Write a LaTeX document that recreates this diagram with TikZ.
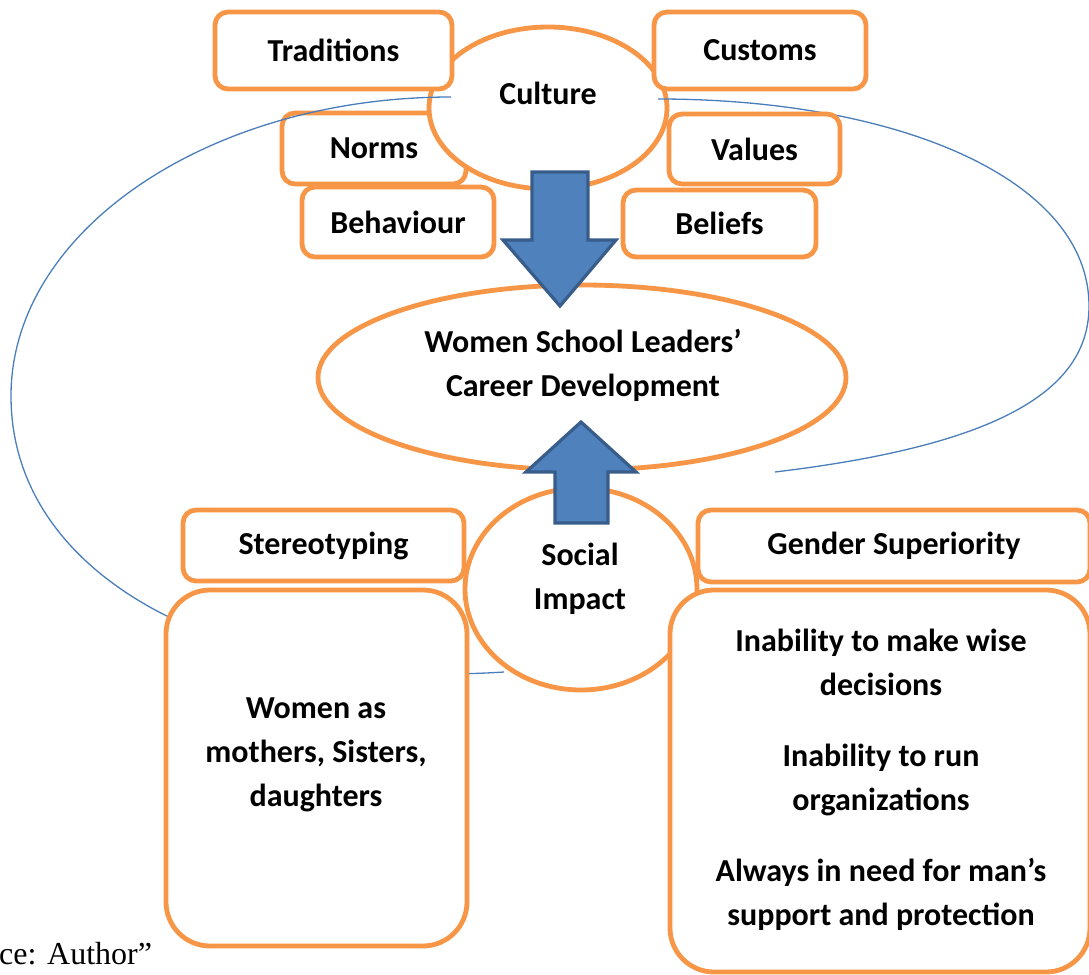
\documentclass[tikz,border=0pt]{standalone}
\usepackage{fontspec}
\setmainfont{Carlito}
\newfontfamily\timesf{Liberation Serif}
\usetikzlibrary{shapes.geometric}
\definecolor{orng}{HTML}{F79646}
\definecolor{arrfill}{HTML}{4F81BD}
\definecolor{arrdraw}{HTML}{385D8A}
\definecolor{curveblue}{HTML}{4A7EBB}
\tikzset{
  obox/.style={draw=orng, line width=4.8pt, fill=white, rounded corners=13pt, inner sep=0pt,
    font=\fontsize{32}{44}\selectfont\bfseries},
  bigbox/.style={obox, rounded corners=44pt},
  oell/.style={ellipse, draw=orng, line width=4.8pt, fill=white, inner sep=0pt},
  txt/.style={inner sep=0pt, align=center, font=\fontsize{32}{44}\selectfont\bfseries},
  blockarrow/.style={fill=arrfill, draw=arrdraw, line width=3.2pt, line join=miter},
  loop/.style={draw=curveblue, line width=1.3pt}
}
\begin{document}
\begin{tikzpicture}[x=1pt,y=-1pt]
\useasboundingbox (0,0) rectangle (1089,974);
\coordinate (lA) at (451,97);
\coordinate (lB) at (11,396);
\coordinate (lC) at (504,672);
\coordinate (rA) at (658,99);
\coordinate (rB) at (1089,306);
\coordinate (rC) at (775,472);
\node[obox, minimum width=184pt, minimum height=71pt] (norms) at (374,148.5) {Norms};
\node[oell, minimum width=238pt, minimum height=162pt] (culture) at (548,108) {};
\node[txt] (culturet) at (548,93) {Culture};
\draw[loop] (lA) .. controls (210,97) and (11,230) .. (lB)
  .. controls (11,580) and (230,690) .. (lC);
\draw[loop] (rA) .. controls (900,99) and (1089,180) .. (rB)
  .. controls (1089,390) and (1000,445) .. (rC);
\node[obox, minimum width=237pt, minimum height=77pt] (traditions) at (333.5,50.5) {Traditions};
\node[obox, minimum width=212pt, minimum height=77pt] (customs) at (760,50.5) {Customs};
\node[obox, minimum width=171pt, minimum height=70pt] (values) at (754.5,149) {Values};
\node[obox, minimum width=192pt, minimum height=70pt] (behaviour) at (398,222) {Behaviour};
\node[obox, minimum width=193pt, minimum height=67pt] (beliefs) at (719.5,223.5) {Beliefs};
% central ellipse
\node[oell, minimum width=528pt, minimum height=185pt] (wslcd) at (582,377.5) {};
\node[txt] (wslcdt) at (583,365) {Women School Leaders’\\Career Development};
% down arrow
\draw[blockarrow] (532,172) -- (588,172) -- (588,240) -- (616,240) -- (560,306) -- (503,240) -- (532,240) -- cycle;
% social impact
\node[oell, minimum width=232pt, minimum height=202pt] (social) at (581,589) {};
\node[txt] (socialt) at (580,579) {Social\\Impact};
% up arrow
\draw[blockarrow] (581,422) -- (636,472) -- (608,472) -- (608,523) -- (555,523) -- (555,472) -- (526,472) -- cycle;
% left side
\node[obox, minimum width=281pt, minimum height=71pt] (stereo) at (323.5,545.5) {Stereotyping};
\node[bigbox, minimum width=301pt, minimum height=356pt] (women) at (316.5,768) {};
\node[txt] (woment) at (316,755) {Women as\\mothers, Sisters,\\daughters};
% right side
\node[obox, minimum width=392pt, minimum height=72pt] (gender) at (894,546) {Gender Superiority};
\node[bigbox, minimum width=420pt, minimum height=382pt] (inab) at (880,781) {};
\node[txt] (inabt) at (881,779.5) {Inability to make wise\\decisions\\[27pt]Inability to run\\organizations\\[27pt]Always in need for man’s\\support and protection};
% source
\node[inner sep=0pt, anchor=base west, font=\timesf\fontsize{32}{38}\selectfont] (source) at (-1,964) {ce: Author”};
\end{tikzpicture}
\end{document}
